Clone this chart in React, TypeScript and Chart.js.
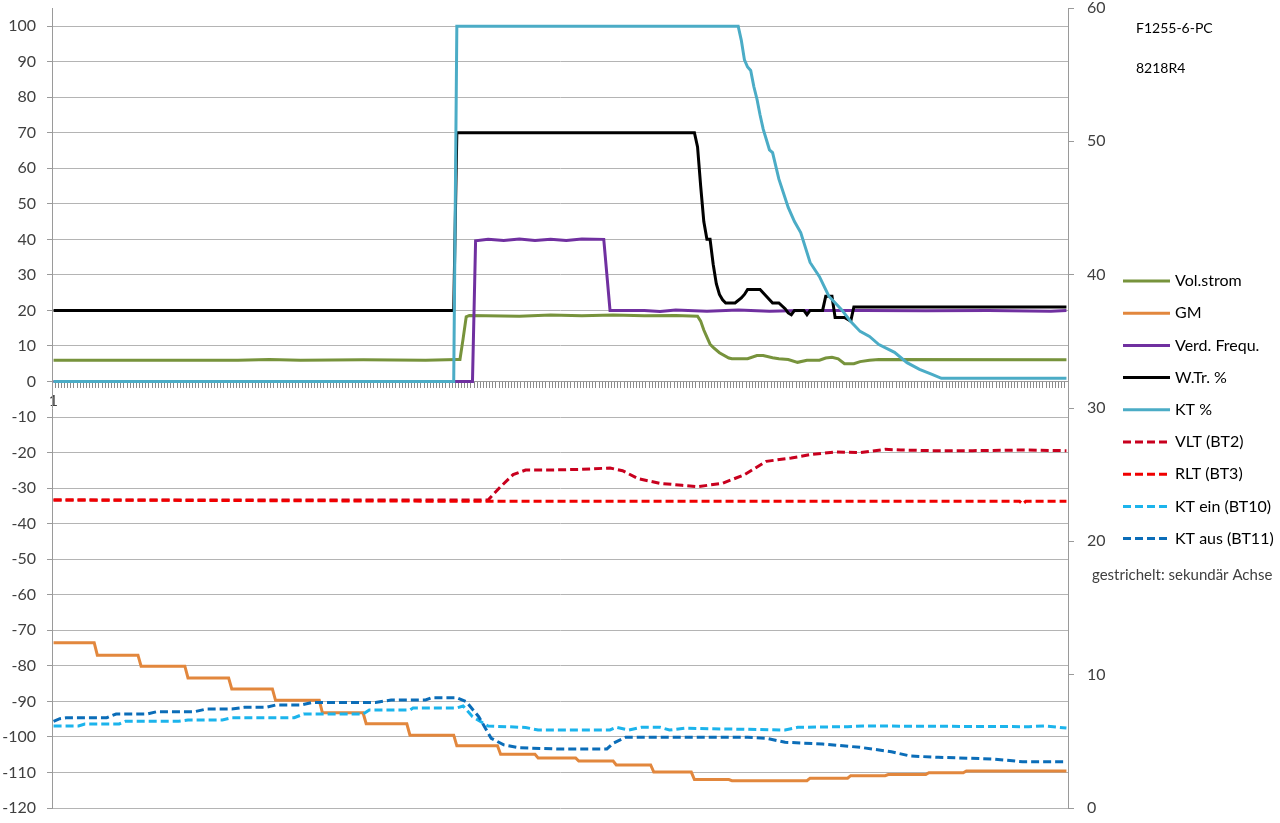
import React, { useEffect, useRef } from 'react';
import { Chart, registerables } from 'chart.js';

Chart.register(...registerables);

// ---- data (category index, value) ----
const CATEGORY_COUNT = 325;

const VOL_STROM: [number, number][] = [
  [1, 6], [60, 6], [70, 6.2], [80, 6], [100, 6.1], [120, 6], [130, 6.2], [131, 6.2], [132, 12], [133, 18.2], [134, 18.6],
  [150, 18.4], [160, 18.7], [170, 18.5], [180, 18.7], [190, 18.5], [200, 18.6], [207, 18.4], [208, 17], [209, 14.5],
  [210, 12.5], [211, 10.5], [212, 9.6], [214, 8.1], [217, 6.6], [218, 6.4], [223, 6.4], [226, 7.3], [228, 7.3],
  [231, 6.7], [233, 6.4], [236, 6.2], [239, 5.4], [242, 6], [246, 6], [248, 6.6], [250, 6.8], [252, 6.4], [254, 5],
  [257, 5], [259, 5.6], [262, 6], [265, 6.2], [325, 6.1],
];

const GM: [number, number][] = [
  [1, -73.5], [14, -73.5], [15, -77], [28, -77], [29, -80.1], [43, -80.1], [44, -83.4], [57, -83.4], [58, -86.5],
  [71, -86.5], [72, -89.7], [86, -89.7], [87, -93.2], [100, -93.2], [101, -96.3], [114, -96.3], [115, -99.5],
  [129, -99.5], [130, -102.5], [143, -102.5], [144, -104.9], [155, -104.9], [156, -105.9], [168, -105.9],
  [169, -106.8], [180, -106.8], [181, -107.9], [192, -107.9], [193, -109.9], [205, -109.9], [206, -112],
  [217, -112], [218, -112.3], [242, -112.3], [243, -111.6], [255, -111.6], [256, -110.9], [267, -110.9],
  [268, -110.6], [280, -110.6], [281, -110.1], [292, -110.1], [293, -109.6], [325, -109.6],
];

const VERD_FREQU: [number, number][] = [
  [1, 0], [135, 0], [136, 39.6], [140, 40], [145, 39.7], [150, 40.1], [155, 39.7], [160, 40], [165, 39.7],
  [170, 40.1], [177, 40], [178, 30], [179, 20], [190, 20], [195, 19.7], [200, 20.1], [210, 19.8], [220, 20.1],
  [230, 19.8], [240, 20], [260, 20], [280, 19.9], [300, 20], [320, 19.8], [325, 20],
];

const W_TR: [number, number][] = [
  [1, 20], [129, 20], [130, 70], [206, 70], [207, 66], [208, 55], [209, 45], [210, 40], [211, 40], [212, 33],
  [213, 27.5], [214, 24.5], [215, 23], [216, 22.1], [219, 22.1], [221, 23.5], [222, 24.5], [223, 25.9], [227, 25.9],
  [229, 24], [231, 22.1], [233, 22.1], [235, 20.5], [236, 19.3], [237, 18.8], [238, 20], [241, 20], [242, 18.8],
  [243, 20], [247, 20], [248, 24], [250, 24], [251, 18], [254, 18], [256, 17], [257, 21], [325, 21],
];

const KT_PROZ: [number, number][] = [
  [1, 0], [129, 0], [130, 100], [220, 100], [221, 96], [222, 90.5], [223, 88.5], [224, 87.5], [225, 83],
  [226, 79.5], [227, 75], [228, 71], [230, 65.2], [231, 64.4], [233, 57], [236, 49], [238, 45], [240, 41.9],
  [243, 33.5], [246, 29.5], [249, 24], [253, 20.3], [256, 16.9], [259, 14.1], [262, 12.7], [265, 10.4],
  [270, 8.2], [274, 5.3], [278, 3.4], [282, 2], [285, 0.9], [325, 0.9],
];

const VLT_BT2: [number, number][] = [
  [1, 23.1], [140, 23.1], [144, 24.1], [148, 25.0], [152, 25.35], [160, 25.35], [170, 25.4], [179, 25.5],
  [183, 25.3], [188, 24.7], [195, 24.35], [202, 24.2], [207, 24.1], [215, 24.35], [222, 25.0], [229, 26.0],
  [237, 26.25], [243, 26.5], [251, 26.7], [259, 26.65], [267, 26.9], [272, 26.85], [282, 26.8], [295, 26.8],
  [311, 26.85], [325, 26.8],
];

const RLT_BT3: [number, number][] = [
  [1, 23.1], [140, 23.0], [310, 23.0], [311, 22.8], [312, 23.0], [325, 23.0],
];

const KT_EIN_BT10: [number, number][] = [
  [1, 6.15], [9, 6.15], [11, 6.3], [22, 6.3], [24, 6.5], [41, 6.5], [44, 6.6], [55, 6.6], [58, 6.77], [78, 6.77],
  [81, 7.05], [100, 7.05], [102, 7.35], [115, 7.35], [116, 7.5], [130, 7.5], [132, 7.65], [135, 6.85], [140, 6.15],
  [152, 6.04], [156, 5.85], [179, 5.85], [181, 6.05], [185, 5.85], [189, 6.05], [195, 6.05], [198, 5.85],
  [203, 5.98], [235, 5.85], [239, 6.05], [255, 6.1], [260, 6.15], [313, 6.1], [318, 6.15], [325, 6.0],
];

const KT_AUS_BT11: [number, number][] = [
  [1, 6.5], [3, 6.7], [5, 6.77], [18, 6.77], [21, 7.05], [31, 7.05], [34, 7.22], [46, 7.22], [50, 7.43],
  [58, 7.43], [62, 7.55], [69, 7.55], [72, 7.72], [80, 7.72], [84, 7.92], [104, 7.92], [109, 8.1], [120, 8.1],
  [122, 8.27], [130, 8.27], [133, 7.97], [137, 6.85], [141, 5.23], [145, 4.73], [150, 4.52], [162, 4.43],
  [178, 4.43], [180, 4.85], [184, 5.3], [223, 5.3], [229, 5.23], [235, 4.93], [247, 4.8], [259, 4.55],
  [269, 4.22], [275, 3.9], [284, 3.8], [302, 3.67], [311, 3.47], [325, 3.47],
];

const TITLE_LINES = ['F1255-6-PC', '8218R4'];
const NOTE_TEXT = 'gestrichelt: sekundär Achse';
const FIRST_CATEGORY_LABEL = '1';

type Series = { label: string; data: [number, number][]; color: string; dashed: boolean };

const SERIES: Series[] = [
  { label: 'Vol.strom', data: VOL_STROM, color: '#77933C', dashed: false },
  { label: 'GM', data: GM, color: '#E2873D', dashed: false },
  { label: 'Verd. Frequ.', data: VERD_FREQU, color: '#7030A0', dashed: false },
  { label: 'W.Tr. %', data: W_TR, color: '#000000', dashed: false },
  { label: 'KT %', data: KT_PROZ, color: '#4BACC6', dashed: false },
  { label: 'VLT (BT2)', data: VLT_BT2, color: '#C8001E', dashed: true },
  { label: 'RLT (BT3)', data: RLT_BT3, color: '#F00000', dashed: true },
  { label: 'KT ein (BT10)', data: KT_EIN_BT10, color: '#1CB4EC', dashed: true },
  { label: 'KT aus (BT11)', data: KT_AUS_BT11, color: '#0B6DB8', dashed: true },
];

const FONT = 'Lato, "Open Sans", sans-serif';
const TEXT_COLOR = '#404040';
const AXIS_COLOR = '#9a9a9a';
const TICK_MARK_COLOR = '#8a8a8a';
const GRID_COLOR = '#b4b4b4';
const DASH = [8, 4];

const legendPlugin = {
  id: 'sideLegend',
  afterDraw(chart: any) {
    const ctx = chart.ctx as CanvasRenderingContext2D;
    ctx.save();
    ctx.textBaseline = 'middle';
    ctx.textAlign = 'left';
    ctx.fillStyle = '#000';
    ctx.font = `14px ${FONT}`;
    ctx.fillText(TITLE_LINES[0], 1136, 28);
    ctx.fillText(TITLE_LINES[1], 1136, 68);

    SERIES.forEach((s, i) => {
      const y = 281 + i * 32.2;
      ctx.beginPath();
      ctx.lineWidth = 3;
      ctx.strokeStyle = s.color;
      ctx.setLineDash(s.dashed ? DASH : []);
      ctx.moveTo(1123, y);
      ctx.lineTo(1170, y);
      ctx.stroke();
      ctx.setLineDash([]);
      ctx.fillStyle = '#000';
      ctx.font = `16px ${FONT}`;
      ctx.fillText(s.label, 1175, y);
    });
    ctx.fillStyle = TEXT_COLOR;
    ctx.font = `15px ${FONT}`;
    ctx.fillText(NOTE_TEXT, 1092, 575);
    ctx.restore();
  },
};

export default function App() {
  const canvasRef = useRef<HTMLCanvasElement | null>(null);

  useEffect(() => {
    if (!canvasRef.current) return;
    const datasets = SERIES.map((s, i) => ({
      label: s.label,
      data: s.data.map(([x, y]) => ({ x, y })),
      borderColor: s.color,
      backgroundColor: s.color,
      borderWidth: 3,
      borderDash: s.dashed ? DASH : [],
      pointRadius: 0,
      pointHoverRadius: 0,
      tension: 0,
      fill: false,
      yAxisID: s.dashed ? 'y2' : 'y',
      order: SERIES.length - i,
    }));

    const chart = new Chart(canvasRef.current, {
      type: 'line',
      data: { datasets },
      plugins: [legendPlugin],
      options: {
        animation: false,
        responsive: true,
        maintainAspectRatio: false,
        layout: { padding: { top: 8, bottom: 15, left: 0, right: 0 } },
        plugins: { legend: { display: false }, tooltip: { enabled: false } },
        scales: {
          x: {
            type: 'linear',
            min: 0.5,
            max: CATEGORY_COUNT + 0.5,
            position: { y: 0 } as any,
            ticks: {
              stepSize: 1,
              autoSkip: false,
              maxRotation: 0,
              minRotation: 0,
              labelOffset: 1.5,
              padding: 4,
              color: TEXT_COLOR,
              font: { family: FONT, size: 16 },
              callback: (_v: any, idx: number) => (idx === 0 ? FIRST_CATEGORY_LABEL : ''),
            },
            grid: {
              drawOnChartArea: false,
              drawTicks: true,
              tickLength: 6,
              color: TICK_MARK_COLOR,
              tickColor: TICK_MARK_COLOR,
              tickWidth: 1,
            },
            border: { display: true, color: AXIS_COLOR },
          },
          y: {
            type: 'linear',
            position: 'left',
            min: -120,
            max: 105.1,
            bounds: 'data',
            ticks: {
              stepSize: 10,
              includeBounds: false,
              padding: 11,
              color: TEXT_COLOR,
              font: { family: FONT, size: 16 },
            },
            grid: { color: GRID_COLOR, tickLength: 5, tickColor: AXIS_COLOR },
            border: { display: true, color: AXIS_COLOR },
            afterFit: (s: any) => {
              s.width = 52;
              s.paddingTop = 0;
              s.paddingBottom = 0;
            },
          },
          y2: {
            type: 'linear',
            position: 'right',
            min: 0,
            max: 60,
            ticks: {
              stepSize: 10,
              padding: 13,
              color: TEXT_COLOR,
              font: { family: FONT, size: 16 },
            },
            grid: { drawOnChartArea: false, tickLength: 6, color: AXIS_COLOR },
            border: { display: true, color: AXIS_COLOR },
            afterFit: (s: any) => {
              s.width = 212;
              s.paddingTop = 0;
              s.paddingBottom = 0;
            },
          },
        },
      } as any,
    });
    return () => chart.destroy();
  }, []);

  return (
    <div style={{ position: 'absolute', left: 0, top: 0, width: 1280, height: 823, background: '#fff' }}>
      <canvas ref={canvasRef} />
    </div>
  );
}
